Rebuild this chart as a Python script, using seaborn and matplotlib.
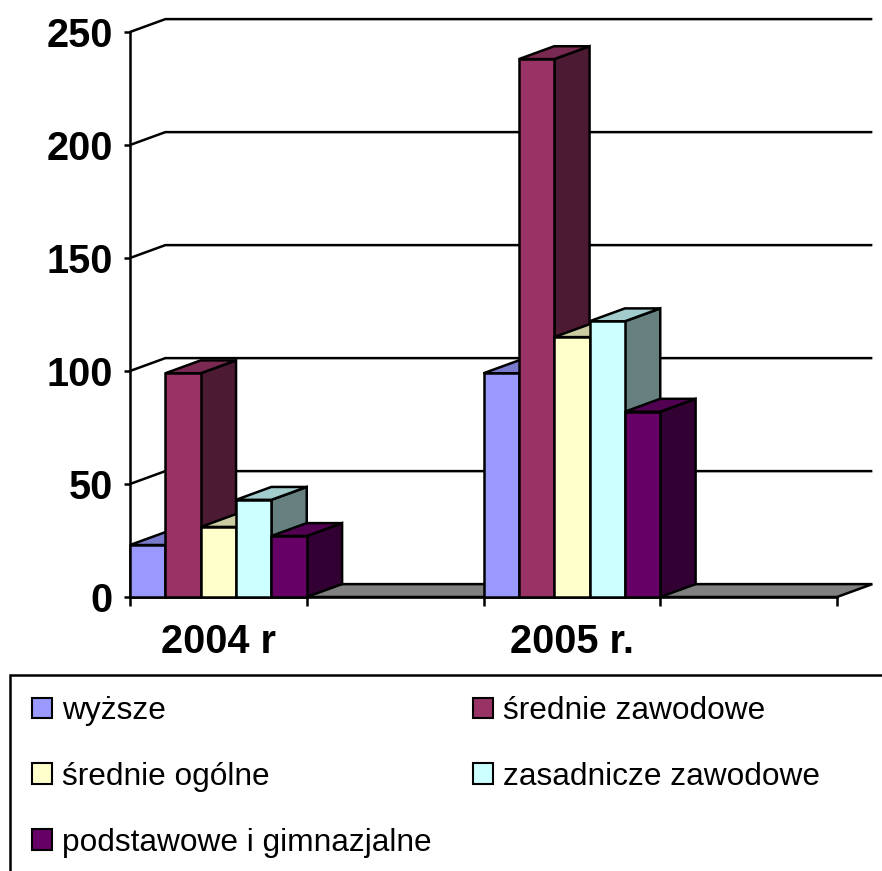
import matplotlib
matplotlib.use("Agg")
from matplotlib import pyplot as plt
from matplotlib.patches import Polygon, Patch, Rectangle
from matplotlib.colors import to_rgb
import seaborn as sns
import pandas as pd

years = ["2004 r", "2005 r."]
series = ["wyższe", "średnie zawodowe", "średnie ogólne",
          "zasadnicze zawodowe", "podstawowe i gimnazjalne"]
vals_2004 = [23, 99, 31, 43, 27]
vals_2005 = [99, 238, 115, 122, 82]
colors = ["#9999FF", "#993366", "#FFFFCC", "#CCFFFF", "#660066"]
yticks = [0, 50, 100, 150, 200, 250]

# excel chart leaves an empty slot after each year
slots = [years[0], "pusty1", years[1], "pusty2"]

df = pd.DataFrame({
    "rok": [years[0]] * len(series) + [years[1]] * len(series),
    "wyksztalcenie": series * 2,
    "liczba": vals_2004 + vals_2005,
})

sns.set_style("white")
plt.rcParams["font.family"] = ["Liberation Sans", "DejaVu Sans"]
plt.rcParams["text.color"] = "black"

fig = plt.figure(figsize=(8.82, 8.71), dpi=100)
ax = fig.add_axes([130 / 882, 1 - 597 / 871, 707 / 882, 565 / 871])

lw = 1.8
sns.barplot(data=df, x="rok", y="liczba", hue="wyksztalcenie", order=slots,
            hue_order=series, palette=dict(zip(series, colors)), saturation=1,
            width=1, edgecolor="black", linewidth=lw, legend=False, ax=ax)

ax.set_xlim(-0.5, len(slots) - 0.5)
ax.set_ylim(yticks[0], yticks[-1])

# depth of the fake 3d effect (category units, value units)
dx, dy = 0.2, 5.7

bars = sorted([p for p in ax.patches if p.get_height() > 0], key=lambda p: p.get_x())

x0, x1 = ax.get_xlim()
floor = Polygon([(x0, 0), (x1, 0), (x1 + dx, dy), (x0 + dx, dy)],
                closed=True, fc="#808080", ec="black", lw=lw, zorder=1, clip_on=False)
ax.add_patch(floor)
for v in yticks[1:]:
    ax.plot([x0, x0 + dx, x1 + dx], [v, v + dy, v + dy], color="black", lw=lw,
            clip_on=False, zorder=0.5, solid_capstyle="butt")

for k, b in enumerate(bars):
    x, w, h = b.get_x(), b.get_width(), b.get_height()
    c = to_rgb(b.get_facecolor())
    top = tuple(v * 0.8 for v in c)
    side = tuple(v * 0.5 for v in c)
    ax.add_patch(Polygon([(x + w, 0), (x + w, h), (x + w + dx, h + dy), (x + w + dx, dy)],
                         closed=True, fc=side, ec="black", lw=lw, zorder=2 + 3 * k,
                         clip_on=False))
    ax.add_patch(Polygon([(x, h), (x + w, h), (x + w + dx, h + dy), (x + dx, h + dy)],
                         closed=True, fc=top, ec="black", lw=lw, zorder=2 + 3 * k,
                         clip_on=False))
    b.set_zorder(3 + 3 * k)
    b.set_clip_on(False)

sns.despine(ax=ax)
for s in ["left", "bottom"]:
    ax.spines[s].set_color("black")
    ax.spines[s].set_linewidth(lw)
    ax.spines[s].set_zorder(1.5)

ax.set_yticks(yticks)
ax.tick_params(axis="y", left=True, length=4.5, width=lw, pad=8, labelsize=28.5,
               colors="black")
ax.set_xticks([0, 2])
ax.set_xticklabels(years)
ax.set_xticks([-0.5, 0.5, 1.5, 2.5, 3.5], minor=True)
ax.tick_params(axis="x", which="major", bottom=False, length=0, pad=19, labelsize=28.5,
               labelcolor="black")
ax.tick_params(axis="x", which="minor", bottom=True, length=6.5, width=lw, color="black")
for lbl in ax.get_yticklabels() + ax.get_xticklabels():
    lbl.set_fontweight("bold")
ax.set_xlabel("")
ax.set_ylabel("")

# legend: row-wise like excel, so reorder for column-major filling
idx = [0, 2, 4, 1, 3]
handles = [Patch(facecolor=colors[i], edgecolor="black", lw=1.5) for i in idx]
labels = [series[i] for i in idx]
leg = fig.legend(handles, labels, ncol=2, frameon=False, loc="upper left",
                 bbox_to_anchor=(32 / 882, 1 - 696 / 871), borderpad=0, borderaxespad=0,
                 fontsize=22.8, handlelength=0.64, handleheight=0.61, handletextpad=0.31,
                 labelspacing=1.13, columnspacing=1.29)
for t in leg.get_texts():
    t.set_color("black")
fig.add_artist(Rectangle((10 / 882, -0.05), 1.0, 1 - 675 / 871 + 0.05,
                         transform=fig.transFigure, fill=False, ec="black", lw=1.8))

fig.savefig("out.png", dpi=100)
